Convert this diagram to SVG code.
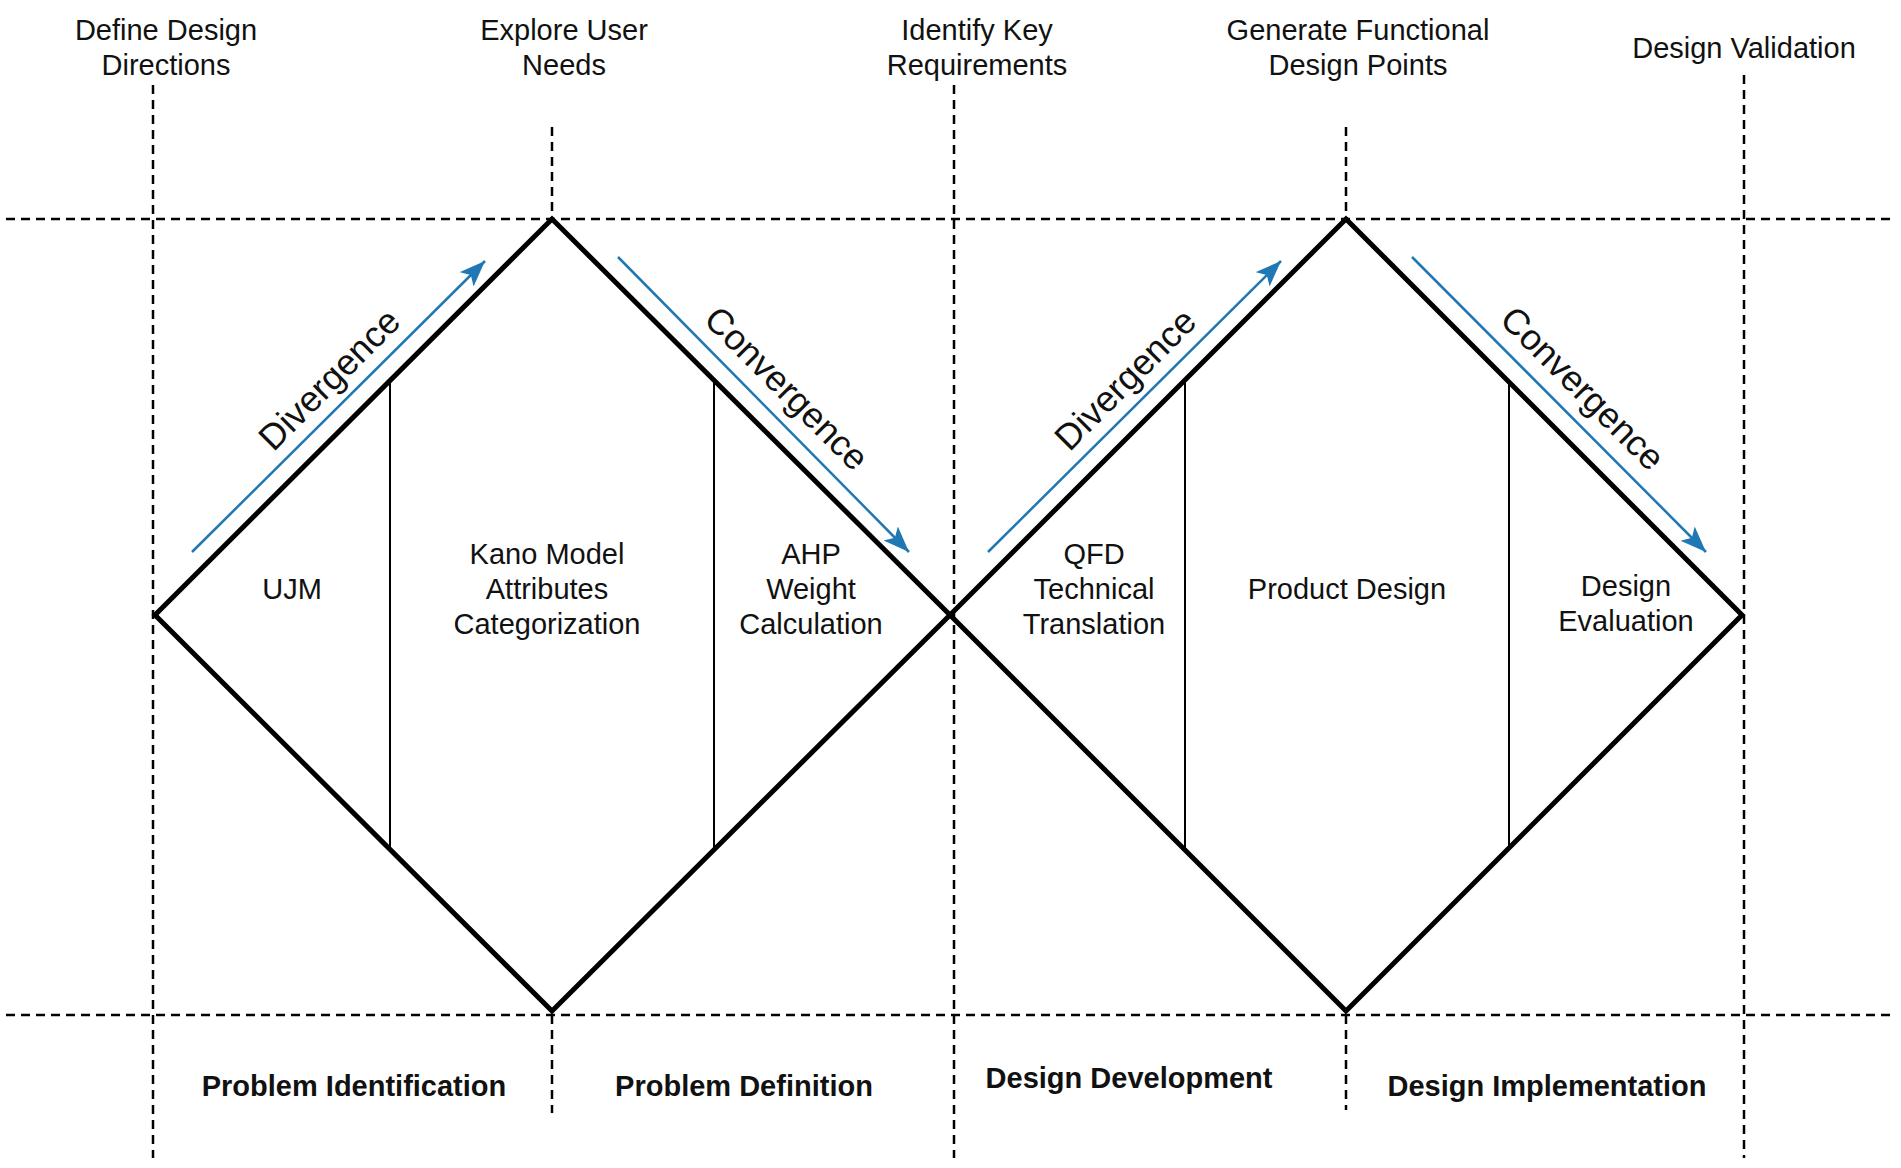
<svg xmlns="http://www.w3.org/2000/svg" width="1901" height="1168" viewBox="0 0 1901 1168">
  <defs>
    <style>
      .grid { stroke: #000; stroke-width: 2.5; stroke-dasharray: 9 6; fill: none; }
      .diamond { stroke: #000; stroke-width: 5; fill: none; stroke-linejoin: miter; }
      .divider { stroke: #000; stroke-width: 2; fill: none; }
      .flow { stroke: #1f77b4; stroke-width: 2.5; fill: none; }
      text { font-family: "Liberation Sans", Arial, Helvetica, sans-serif; fill: #111; }
      .lbl { font-size: 29px; text-anchor: middle; }
      .phase { font-size: 29px; font-weight: bold; text-anchor: middle; }
      .dir { font-size: 36px; text-anchor: middle; }
    </style>
    <marker id="arrow" markerUnits="userSpaceOnUse" markerWidth="30" markerHeight="22" refX="26" refY="10" orient="auto">
      <path d="M0,0 L26,10 L0,20 L6,10 Z" fill="#1f77b4"/>
    </marker>
  </defs>
  <rect x="0" y="0" width="1901" height="1168" fill="#fff"/>

  <g id="grid">
    <line class="grid" x1="6" y1="219" x2="1891" y2="219"/>
    <line class="grid" x1="6" y1="1015" x2="1891" y2="1015"/>
    <line class="grid" x1="153" y1="85" x2="153" y2="1158"/>
    <line class="grid" x1="552" y1="127" x2="552" y2="219"/>
    <line class="grid" x1="552" y1="1015" x2="552" y2="1113"/>
    <line class="grid" x1="954" y1="85" x2="954" y2="1158"/>
    <line class="grid" x1="1346" y1="127" x2="1346" y2="219"/>
    <line class="grid" x1="1346" y1="1015" x2="1346" y2="1110"/>
    <line class="grid" x1="1744" y1="75" x2="1744" y2="1158"/>
  </g>

  <g id="stage-labels">
    <text class="lbl" x="166" y="40">Define Design</text>
    <text class="lbl" x="166" y="75">Directions</text>
    <text class="lbl" x="564" y="40">Explore User</text>
    <text class="lbl" x="564" y="75">Needs</text>
    <text class="lbl" x="977" y="40">Identify Key</text>
    <text class="lbl" x="977" y="75">Requirements</text>
    <text class="lbl" x="1358" y="40">Generate Functional</text>
    <text class="lbl" x="1358" y="75">Design Points</text>
    <text class="lbl" x="1744" y="58">Design Validation</text>
  </g>

  <g id="diamond-1">
    <path class="diamond" d="M155,615 L552,219 L950,615 L552,1011 Z"/>
    <line class="divider" x1="390" y1="380" x2="390" y2="850"/>
    <line class="divider" x1="714" y1="379" x2="714" y2="851"/>
  </g>
  <g id="diamond-2">
    <path class="diamond" d="M950,615 L1346,219 L1742,615 L1346,1011 Z"/>
    <line class="divider" x1="1185" y1="381" x2="1185" y2="849"/>
    <line class="divider" x1="1509" y1="382" x2="1509" y2="848"/>
  </g>

  <g id="node-ujm">
    <text class="lbl" x="292" y="599">UJM</text>
  </g>
  <g id="node-kano">
    <text class="lbl" x="547" y="564">Kano Model</text>
    <text class="lbl" x="547" y="599">Attributes</text>
    <text class="lbl" x="547" y="634">Categorization</text>
  </g>
  <g id="node-ahp">
    <text class="lbl" x="811" y="564">AHP</text>
    <text class="lbl" x="811" y="599">Weight</text>
    <text class="lbl" x="811" y="634">Calculation</text>
  </g>
  <g id="node-qfd">
    <text class="lbl" x="1094" y="564">QFD</text>
    <text class="lbl" x="1094" y="599">Technical</text>
    <text class="lbl" x="1094" y="634">Translation</text>
  </g>
  <g id="node-product">
    <text class="lbl" x="1347" y="599">Product Design</text>
  </g>
  <g id="node-evaluation">
    <text class="lbl" x="1626" y="596">Design</text>
    <text class="lbl" x="1626" y="631">Evaluation</text>
  </g>

  <g id="connectors">
    <line class="flow" x1="192" y1="552" x2="485" y2="261" marker-end="url(#arrow)"/>
    <line class="flow" x1="618" y1="257" x2="909" y2="552" marker-end="url(#arrow)"/>
    <line class="flow" x1="988" y1="552" x2="1281" y2="261" marker-end="url(#arrow)"/>
    <line class="flow" x1="1412" y1="257" x2="1706" y2="552" marker-end="url(#arrow)"/>
  </g>

  <g id="flow-labels">
    <text class="dir" transform="translate(338,388) rotate(-45)">Divergence</text>
    <text class="dir" transform="translate(778,397) rotate(45)">Convergence</text>
    <text class="dir" transform="translate(1134,388) rotate(-45)">Divergence</text>
    <text class="dir" transform="translate(1574,397) rotate(45)">Convergence</text>
  </g>

  <g id="phase-labels">
    <text class="phase" x="354" y="1096">Problem Identification</text>
    <text class="phase" x="744" y="1096">Problem Definition</text>
    <text class="phase" x="1129" y="1088">Design Development</text>
    <text class="phase" x="1547" y="1096">Design Implementation</text>
  </g>
</svg>
